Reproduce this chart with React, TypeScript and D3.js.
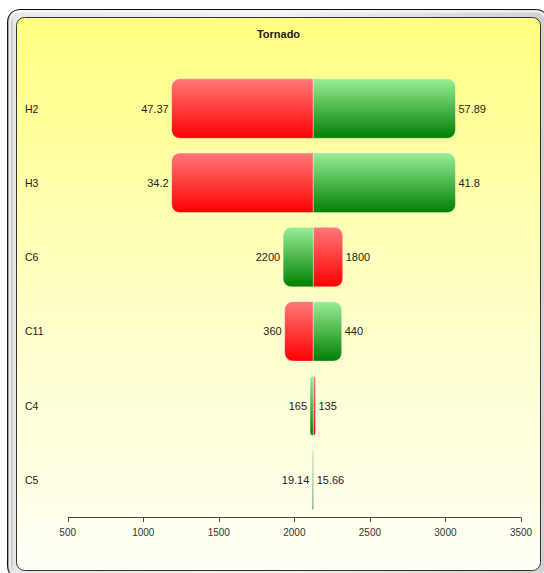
import React from "react";
import * as d3 from "d3";

const categories = ["H2", "H3", "C6", "C11", "C4", "C5"];
const inputLow = [47.37, 34.2, 1800, 360, 135, 15.66];
const inputHigh = [57.89, 41.8, 2200, 440, 165, 19.14];
const outputAtLow = [1188, 1188, 2320, 1936, 2140, 2128];
const outputAtHigh = [3066, 3066, 1926, 2313, 2104, 2119];
const baseValue = 2125;
const xTicks = [500, 1000, 1500, 2000, 2500, 3000, 3500];
const title = "Tornado";

const W = 544;
const H = 573;

function halfBar(x0: number, x1: number, y0: number, h: number, roundLeft: boolean, rMax: number) {
  const w = x1 - x0;
  const r = Math.max(0, Math.min(rMax, w, h / 2));
  const p = d3.path();
  if (roundLeft) {
    p.moveTo(x1, y0);
    p.lineTo(x0 + r, y0);
    p.arcTo(x0, y0, x0, y0 + r, r);
    p.lineTo(x0, y0 + h - r);
    p.arcTo(x0, y0 + h, x0 + r, y0 + h, r);
    p.lineTo(x1, y0 + h);
    p.closePath();
  } else {
    p.moveTo(x0, y0);
    p.lineTo(x1 - r, y0);
    p.arcTo(x1, y0, x1, y0 + r, r);
    p.lineTo(x1, y0 + h - r);
    p.arcTo(x1, y0 + h, x1 - r, y0 + h, r);
    p.lineTo(x0, y0 + h);
    p.closePath();
  }
  return p.toString();
}

export default function App() {
  const x = d3.scaleLinear().domain([500, 3500]).range([67.7, 521]);
  const y = d3
    .scaleBand<string>()
    .domain(categories)
    .range([71.4, 517])
    .paddingInner(0.2)
    .paddingOuter(0.1);
  const bw = y.bandwidth();
  const xc = x(baseValue);
  const font = "Arial, 'Liberation Sans', sans-serif";

  return (
    <svg
      width={W}
      height={H}
      style={{ position: "absolute", left: 0, top: 0 }}
      fontFamily={font}
    >
      <defs>
        <linearGradient id="bg" x1="0" y1="0" x2="0" y2="1">
          <stop offset="0" stopColor="#ffff80" />
          <stop offset="0.5" stopColor="#ffffc4" />
          <stop offset="1" stopColor="#fffff6" />
        </linearGradient>
        <linearGradient id="bevel" x1="0" y1="0" x2="1" y2="0">
          <stop offset="0" stopColor="#9a9a9a" />
          <stop offset="0.012" stopColor="#e8e8e8" />
          <stop offset="0.5" stopColor="#f2f2f2" />
          <stop offset="1" stopColor="#d0d0d0" />
        </linearGradient>
        <linearGradient id="red" x1="0" y1="0" x2="0" y2="1">
          <stop offset="0" stopColor="#ff7878" />
          <stop offset="1" stopColor="#ff0000" />
        </linearGradient>
        <linearGradient id="green" x1="0" y1="0" x2="0" y2="1">
          <stop offset="0" stopColor="#98ee98" />
          <stop offset="1" stopColor="#008000" />
        </linearGradient>
      </defs>

      {/* frame */}
      <rect x={7.5} y={9.5} width={541} height={569} rx={12} fill="url(#bevel)" stroke="#111" strokeWidth={1} />
      <rect x={10} y={11.5} width={536} height={565} rx={10} fill="none" stroke="#ffffff" strokeOpacity={0.7} strokeWidth={2} />
      <rect x={16.5} y={17.5} width={524} height={553} rx={8} fill="url(#bg)" stroke="#333" strokeWidth={1} />

      <text x={278.5} y={38} textAnchor="middle" fontSize={11} fontWeight="bold" fill="#222">
        {title}
      </text>

      {/* category labels */}
      {categories.map((c) => (
        <text key={c} x={25} y={(y(c) as number) + bw / 2 + 4} fontSize={10.5} fill="#222">
          {c}
        </text>
      ))}

      {/* bars */}
      {categories.map((c, i) => {
        const y0 = y(c) as number;
        const segs = [
          { v: outputAtLow[i], fill: "url(#red)", label: String(inputLow[i]) },
          { v: outputAtHigh[i], fill: "url(#green)", label: String(inputHigh[i]) },
        ];
        return (
          <g key={c}>
            {segs.map((s, j) => {
              const xv = x(s.v);
              const left = xv < xc;
              const d = left
                ? halfBar(xv, xc, y0, bw, true, 8)
                : halfBar(xc, xv, y0, bw, false, 8);
              return (
                <g key={j}>
                  <path d={d} fill={s.fill} stroke="#ffffff" strokeOpacity={0.35} strokeWidth={1} />
                  <text
                    x={left ? xv - 3 : xv + 3}
                    y={y0 + bw / 2 + 4}
                    textAnchor={left ? "end" : "start"}
                    fontSize={11}
                    fill="#222"
                  >
                    {s.label}
                  </text>
                </g>
              );
            })}
          </g>
        );
      })}

      {/* axis */}
      <g>
        <line x1={x(500)} x2={x(3500)} y1={517.5} y2={517.5} stroke="#444" strokeWidth={1} />
        {xTicks.map((t) => (
          <g key={t}>
            <line x1={Math.round(x(t)) + 0.5} x2={Math.round(x(t)) + 0.5} y1={517.5} y2={522} stroke="#444" strokeWidth={1} />
            <text x={x(t)} y={536} textAnchor="middle" fontSize={10} fill="#333">
              {t}
            </text>
          </g>
        ))}
      </g>
    </svg>
  );
}
